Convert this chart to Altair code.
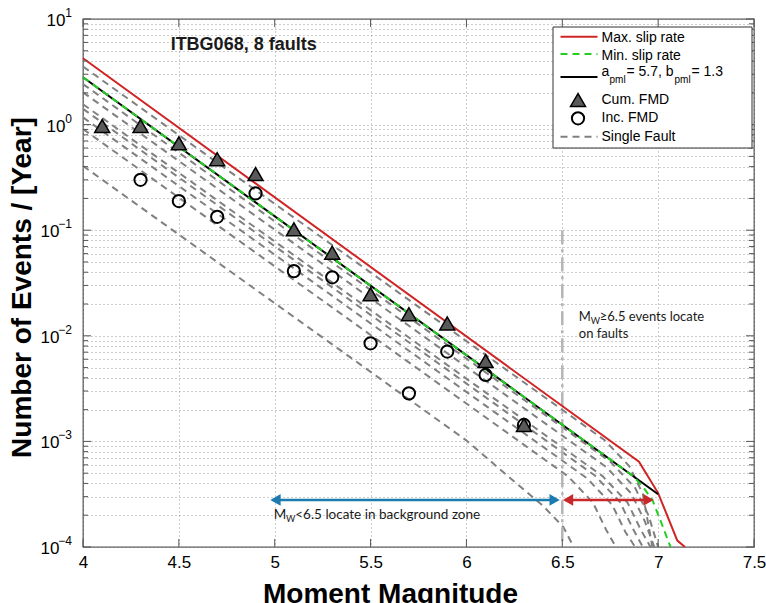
import altair as alt
import pandas as pd

# ---------------- data ----------------
max_m = [4.0, 6.9, 7.0, 7.1, 7.14]
max_v = [4.25, 6.43e-4, 3.24e-4, 1.15e-4, 1.0e-4]

min_m = [4.0, 6.87, 6.92, 6.97, 7.01, 7.06, 7.065]
min_v = [2.81, 4.69e-4, 3.72e-4, 2.79e-4, 1.82e-4, 1.05e-4, 1.0e-4]

pml_m = [4.0, 7.0]
pml_v = [2.81, 3.16e-4]

fault_m = [
    [4.0, 6.72, 6.85, 6.92, 6.97],
    [4.0, 6.75, 6.88, 6.95, 7.0],
    [4.0, 6.73, 6.86, 6.93, 6.98],
    [4.0, 6.71, 6.84, 6.91, 6.96],
    [4.0, 6.67, 6.80, 6.87, 6.92],
    [4.0, 6.63, 6.76, 6.83, 6.88],
    [4.0, 6.53, 6.66, 6.73, 6.78],
    [4.0, 6.0, 6.24, 6.40, 6.505, 6.56],
]
fault_v = [
    [3.55, 1.03e-3, 5.82e-4, 3.19e-4, 1e-4],
    [2.42, 6.44e-4, 3.63e-4, 1.99e-4, 1e-4],
    [2.02, 5.70e-4, 3.21e-4, 1.76e-4, 1e-4],
    [1.56, 4.69e-4, 2.64e-4, 1.45e-4, 1e-4],
    [1.41, 4.75e-4, 2.68e-4, 1.47e-4, 1e-4],
    [1.17, 4.46e-4, 2.51e-4, 1.38e-4, 1e-4],
    [0.908, 4.67e-4, 2.63e-4, 1.44e-4, 1e-4],
    [0.406, 1.02e-3, 4.31e-4, 2.45e-4, 1.55e-4, 1e-4],
]

cum_m = [4.1, 4.3, 4.5, 4.7, 4.9, 5.1, 5.3, 5.5, 5.7, 5.9, 6.1, 6.3]
cum_v = [0.97, 0.97, 0.665, 0.47, 0.34, 0.102, 0.0612, 0.0247, 0.016, 0.0131, 0.00577, 0.00143]

inc_m = [4.3, 4.5, 4.7, 4.9, 5.1, 5.3, 5.5, 5.7, 5.9, 6.1, 6.3]
inc_v = [0.30, 0.189, 0.134, 0.223, 0.041, 0.0358, 0.0085, 0.00285, 0.0071, 0.00426, 0.00143]

x_ticks = [4.0, 4.5, 5.0, 5.5, 6.0, 6.5, 7.0, 7.5]
y_decades = [10, 1, 0.1, 0.01, 0.001, 0.0001]
y_exps = ["1", "0", "\u22121", "\u22122", "\u22123", "\u22124"]
y_minor = [k * 10.0 ** e for e in range(-4, 1) for k in range(1, 10)] + [10.0]

W, H = 671, 528
FONT = "Liberation Sans"

# ---------------- scales / axes ----------------
xs = alt.Scale(domain=[4, 7.5], nice=False, zero=False)
ys = alt.Scale(type="log", domain=[1e-4, 10], nice=False)
xaxis = alt.Axis(values=x_ticks, format="~g", grid=True, ticks=False, domain=False,
                 labelFontSize=17, labelFont=FONT, labelColor="black", labelPadding=7,
                 labelFlush=False, labelOverlap=False,
                 title="Moment Magnitude", titleFont=FONT, titleFontSize=28,
                 titleFontWeight="bold", titleColor="black", titleX=307, titleY=55,
                 titleAlign="center", titleBaseline="alphabetic")
yaxis = alt.Axis(values=y_minor, grid=True, ticks=False, domain=False, labels=False,
                 title="Number of Events / [Year]", titleFont=FONT, titleFontSize=28,
                 titleFontWeight="bold", titleColor="black", titleX=-61, titleY=268,
                 titleAngle=270, titleAlign="center", titleBaseline="middle")

X = alt.X("m:Q", scale=xs, axis=xaxis)
Y = alt.Y("v:Q", scale=ys, axis=yaxis)

dummy = pd.DataFrame({"k": [0]})


def series_df(ms, vs):
    return pd.DataFrame({"m": ms, "v": vs})


def line_layer(ms, vs, color, width, dash=None):
    kw = dict(color=color, strokeWidth=width)
    if dash:
        kw["strokeDash"] = dash
    return alt.Chart(series_df(ms, vs)).mark_line(**kw).encode(x=X, y=Y, order="m:Q")


# gray single fault lines
frows = []
for i, (ms, vs) in enumerate(zip(fault_m, fault_v)):
    for m, v in zip(ms, vs):
        frows.append({"m": m, "v": v, "f": i})
faults = alt.Chart(pd.DataFrame(frows)).mark_line(
    color="#808080", strokeWidth=2, strokeDash=[7, 5]
).encode(x=X, y=Y, detail="f:N", order="m:Q")

# vertical 6.5 separator
vline = alt.Chart(pd.DataFrame({"m": [6.5], "v": [0.1], "v2": [1e-4]})).mark_rule(
    color="#b5b5b5", strokeWidth=2.5, strokeDash=[14, 5, 3, 5]
).encode(x=X, y=Y, y2="v2:Q")

red = line_layer(max_m, max_v, "#d02424", 2)
black = line_layer(pml_m, pml_v, "black", 2)
green = line_layer(min_m, min_v, "#22d022", 2, [7, 5])

inc = alt.Chart(series_df(inc_m, inc_v)).mark_point(
    shape="circle", size=150, filled=False, stroke="black", strokeWidth=2, opacity=1
).encode(x=X, y=Y)
cum = alt.Chart(series_df(cum_m, cum_v)).mark_point(
    shape="triangle-up", size=225, filled=True, fill="#5a5a5a", stroke="black",
    strokeWidth=1.5, opacity=1
).encode(x=X, y=Y)

# arrows
blue_c = "#1b7bb0"
red_c = "#c8282a"
arr_v = 2.79e-4
arrows = []
for (m1, m2, t1, t2, col) in [(4.99, 6.47, 5.004, 6.46, blue_c), (6.515, 6.96, 6.53, 6.95, red_c)]:
    arrows.append(alt.Chart(pd.DataFrame({"m": [m1], "m2": [m2], "v": [arr_v]})).mark_rule(
        color=col, strokeWidth=2.5).encode(x=X, x2="m2:Q", y=Y))
    arrows.append(alt.Chart(pd.DataFrame({"m": [t1], "v": [arr_v]})).mark_point(
        shape="triangle-left", size=140, filled=True, color=col, opacity=1).encode(x=X, y=Y))
    arrows.append(alt.Chart(pd.DataFrame({"m": [t2], "v": [arr_v]})).mark_point(
        shape="triangle-right", size=140, filled=True, color=col, opacity=1).encode(x=X, y=Y))


def dtext(m, v, txt, size, dx=0, dy=0, font="Lato", weight="normal", align="left"):
    return alt.Chart(pd.DataFrame({"m": [m], "v": [v], "t": [txt]})).mark_text(
        font=font, fontSize=size, fontWeight=weight, align=align, baseline="middle",
        dx=dx, dy=dy, color="#1a1a1a"
    ).encode(x=X, y=Y, text="t:N")


texts = [
    dtext(4.838, 5.68, "ITBG068, 8 faults", 18, font=FONT, weight="bold", align="center"),
    dtext(6.586, 0.0152, "M", 13),
    dtext(6.586, 0.0152, "W", 9, dx=12, dy=4),
    dtext(6.586, 0.0152, "\u22656.5 events locate", 13, dx=21),
    dtext(6.586, 0.0104, "on faults", 13),
    dtext(4.995, 2.01e-4, "M", 13.5),
    dtext(4.995, 2.01e-4, "W", 9, dx=12.3, dy=4),
    dtext(4.995, 2.01e-4, "<6.5 locate in background zone", 13.5, dx=21.5),
]

# inner ticks
yt_df = pd.DataFrame({"v": y_minor, "maj": [1 if v in y_decades else 0 for v in y_minor]})
ticks = []
for side in ("l", "r"):
    for maj, ln in ((1, 8), (0, 5)):
        x1, x2 = (0, ln) if side == "l" else (W - ln, W)
        ticks.append(alt.Chart(yt_df[yt_df.maj == maj]).mark_rule(color="#555", strokeWidth=1)
                     .encode(y=Y, x=alt.value(x1), x2=alt.value(x2)))
xt_df = pd.DataFrame({"m": x_ticks})
for y1, y2 in ((H - 8, H), (0, 8)):
    ticks.append(alt.Chart(xt_df).mark_rule(color="#555", strokeWidth=1)
                 .encode(x=X, y=alt.value(y1), y2=alt.value(y2)))

# y tick labels 10^k
dec_df = pd.DataFrame({"v": y_decades, "e": y_exps, "neg": [0, 0, 1, 1, 1, 1]})
ylabels = []
for neg, xpos in ((0, -17.5), (1, -23.5)):
    ylabels.append(alt.Chart(dec_df[dec_df.neg == neg].assign(b="10")).mark_text(
        font=FONT, fontSize=17, align="right", baseline="middle", dy=2, color="black"
    ).encode(y=Y, x=alt.value(xpos), text="b:N"))
ylabels.append(alt.Chart(dec_df).mark_text(
    font=FONT, fontSize=12, align="right", baseline="middle", dy=-6, color="black"
).encode(y=Y, x=alt.value(-11), text="e:N"))

# legend (drawn in pixel space)
LX = 470
legend = [
    alt.Chart(dummy).mark_rect(fill="white", stroke="#333", strokeWidth=1).encode(
        x=alt.value(LX), x2=alt.value(669), y=alt.value(8), y2=alt.value(129)),
    alt.Chart(dummy).mark_rule(color="#d02424", strokeWidth=2).encode(
        x=alt.value(477.5), x2=alt.value(514.5), y=alt.value(17.8)),
    alt.Chart(dummy).mark_rule(color="#22d022", strokeWidth=2, strokeDash=[7, 5]).encode(
        x=alt.value(477.5), x2=alt.value(514.5), y=alt.value(35)),
    alt.Chart(dummy).mark_rule(color="black", strokeWidth=2).encode(
        x=alt.value(477.5), x2=alt.value(514.5), y=alt.value(58)),
    alt.Chart(dummy).mark_point(shape="triangle-up", size=225, filled=True, fill="#5a5a5a",
                                stroke="black", strokeWidth=1.5, opacity=1).encode(
        x=alt.value(495), y=alt.value(81)),
    alt.Chart(dummy).mark_point(shape="circle", size=150, filled=False, stroke="black",
                                strokeWidth=2, opacity=1).encode(
        x=alt.value(495), y=alt.value(99.3)),
    alt.Chart(dummy).mark_rule(color="#808080", strokeWidth=2, strokeDash=[7, 5]).encode(
        x=alt.value(477.5), x2=alt.value(514.5), y=alt.value(117.7)),
]
leg_items = [
    ("Max. slip rate", 518.5, 19.3, 14),
    ("Min. slip rate", 518.5, 37, 14),
    ("a", 518.5, 52.7, 14),
    ("pml", 526.5, 61, 10),
    ("= 5.7, b", 543.5, 52.7, 14),
    ("pml", 591.5, 61, 10),
    ("= 1.3", 608.5, 52.7, 14),
    ("Cum. FMD", 518.5, 81, 14),
    ("Inc. FMD", 518.5, 99.3, 14),
    ("Single Fault", 518.5, 117.7, 14),
]
for t, x, y, s in leg_items:
    legend.append(alt.Chart(pd.DataFrame({"t": [t]})).mark_text(
        font=FONT, fontSize=s, align="left", baseline="middle", color="black"
    ).encode(x=alt.value(x), y=alt.value(y), text="t:N"))

chart = alt.layer(
    faults, vline, red, black, green, inc, cum, *arrows, *texts, *ticks, *ylabels, *legend
).properties(
    width=W, height=H,
    autosize=alt.AutoSizeParams(type="none"),
    padding={"left": 83, "top": 19, "right": 12, "bottom": 56},
    background="white",
).configure_view(
    stroke="#555", strokeWidth=1.3
).configure_axis(
    gridColor="#9a9a9a", gridDash=[1, 3], gridWidth=1, gridOpacity=1
)

chart.save("out.html", embed_options={"renderer": "svg", "actions": False})
